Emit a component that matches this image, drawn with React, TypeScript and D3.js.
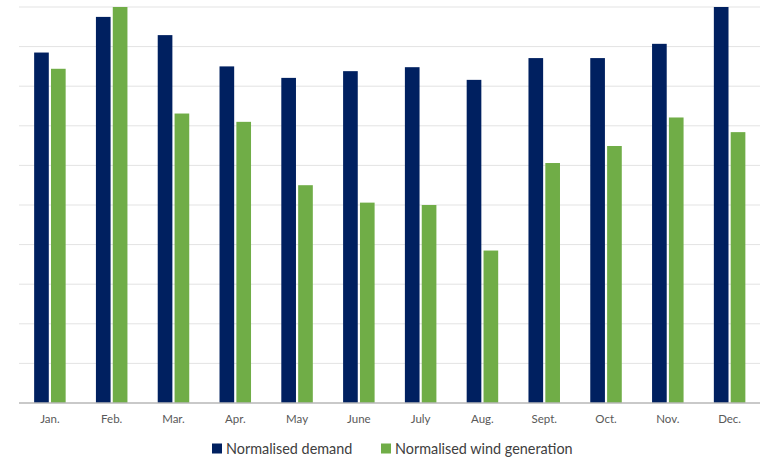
import React from "react";
import * as d3 from "d3";

const months = ["Jan.", "Feb.", "Mar.", "Apr.", "May", "June", "July", "Aug.", "Sept.", "Oct.", "Nov.", "Dec."];
const demand = [8.85, 9.75, 9.29, 8.5, 8.21, 8.38, 8.48, 8.16, 8.71, 8.71, 9.07, 10.0];
const wind = [8.44, 10.0, 7.31, 7.1, 5.5, 5.06, 5.0, 3.85, 6.06, 6.49, 7.21, 6.84];
const seriesNames = ["Normalised demand", "Normalised wind generation"];
const seriesColors = ["#002060", "#70AD47"];
const gridTicks = d3.range(0, 11);

const W = 760;
const H = 458;
const left = 19;
const right = 760.5;
const top = 7;
const bottom = 403;
const font = "Lato, 'Open Sans', sans-serif";

export default function App() {
  const x = d3.scaleBand<string>().domain(months).range([left, right]).paddingInner(0.49).paddingOuter(0.245);
  const y = d3.scaleLinear().domain([0, 10]).range([bottom, top]);
  const inner = d3.scaleBand<number>().domain([0, 1]).range([0, x.bandwidth()]).paddingInner(0.13);
  const series = [demand, wind];

  return (
    <svg width={W} height={H} style={{ position: "absolute", left: 0, top: 0, background: "#fff" }}>
      {gridTicks.slice(1).map((t) => (
        <line key={t} x1={left} x2={right} y1={y(t)} y2={y(t)} stroke="#E3E3E3" strokeWidth={1} />
      ))}
      {series.map((vals, si) =>
        vals.map((v, i) => (
          <rect
            key={`${si}-${i}`}
            x={(x(months[i]) as number) + (inner(si) as number)}
            y={y(v)}
            width={inner.bandwidth()}
            height={bottom - y(v)}
            fill={seriesColors[si]}
          />
        ))
      )}
      <line x1={left} x2={right} y1={bottom} y2={bottom} stroke="#B7B7B7" strokeWidth={1.3} />
      {months.map((m) => (
        <text
          key={m}
          x={(x(m) as number) + x.bandwidth() / 2}
          y={423}
          textAnchor="middle"
          fontFamily={font}
          fontSize={11.5}
          fill="#595959"
        >
          {m}
        </text>
      ))}
      {seriesNames.map((name, si) => {
        const lx = si === 0 ? 212 : 381;
        return (
          <g key={name}>
            <rect x={lx} y={443.5} width={10} height={10} fill={seriesColors[si]} />
            <text x={lx + 14} y={453.5} fontFamily={font} fontSize={14.4} fill="#404040">
              {name}
            </text>
          </g>
        );
      })}
    </svg>
  );
}
